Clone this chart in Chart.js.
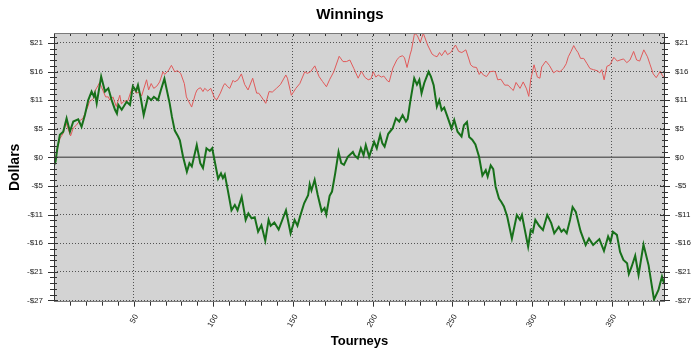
<!DOCTYPE html>
<html>
<head>
<meta charset="utf-8">
<script src="https://cdn.jsdelivr.net/npm/chart.js@4"></script>
<style>
  html, body { margin: 0; padding: 0; background: #fff; }
</style>
</head>
<body>
<canvas id="chart" width="700" height="357"></canvas>
<script>
// Tourney number / cumulative dollars
const greenTourneys = [0,1,2,3.7,5.8,7.9,10,12.1,15.2,17.3,
  19.4,21.5,23.6,25,25.7,26.8,29.6,32,34.1,36.2,
  38.3,39.5,40.4,42.5,45.6,47.7,49.5,51.5,52.7,54.5,
  56.3,59,61,62.7,65.3,67,69.3,72.6,74,75.8,
  77.9,79,81,83.4,85,86.5,89.6,91.8,93.5,95.7,
  97.8,99.3,103,104.8,106,107.2,109,111.4,113.5,115.2,
  117.8,120.3,122,124,126,128.1,130.2,132.6,134.7,136,
  138.3,141,145.6,148.5,151,152.8,154.5,157,159.5,160.5,
  161.6,163.6,165.5,168,169.8,170.9,173,174.5,176.5,178.6,
  180.3,182,184.4,187.6,188.6,190.7,191.7,192.6,194.3,195.7,
  197.8,200.9,202.6,204.7,206.1,207.5,209.8,212.5,214.6,216.7,
  218.8,220.9,222,223.6,226.1,227.8,229.3,230.7,232.4,235.1,
  236.6,238.3,240.3,241.8,243.3,244.9,246.6,249.5,251.2,253.3,
  255.8,257.3,259.2,260.6,262.5,264.5,266.8,268.9,271,272.2,
  274.1,275.7,277.2,279.3,280.7,282.4,284.5,287.4,290.5,292.5,
  293.7,297.6,299.2,300.5,302.1,304.5,306.9,309.6,312.1,314,
  316.8,318.5,320,321.8,323.9,325.5,327.5,330.5,333.7,335.8,
  338.4,342.3,345.2,347.8,349.3,350.8,353.3,355.3,357.4,359.7,
  360.8,362.5,364.8,366.9,370,373.2,376.6,379.4,381.6,383];
const greenDollars = [-1.5,-0.8,1.5,4.2,4.8,7.3,4.8,6.7,7.1,5.7,
  7.9,10.7,12.3,11.4,12,10.1,15.1,12.3,12.9,10.7,
  8.9,8.2,9.8,8.9,10.4,9.8,13.3,12.4,13.5,11,
  7.9,11.3,10.7,11.3,10.7,12.5,14.7,10.1,7.6,5,
  3.9,3.2,0.1,-2.7,-1.1,-1.7,2.3,-1.1,-2,1.7,
  1.2,1.7,-4,-3,-3.9,-3.2,-6,-9.9,-8.9,-9.9,
  -7.4,-11.7,-10.5,-11.4,-11.2,-13.9,-12.7,-15.6,-11.7,-12.8,
  -12.2,-13.5,-9.9,-14.2,-11.7,-12.8,-11,-8.6,-7.1,-5,
  -6.2,-4.2,-7,-10.1,-9.5,-10.7,-7.2,-6.4,-3,1,
  -1.1,-1.4,0.1,1,0.4,-0.2,0.8,1.7,0.4,2.3,
  0.1,2.9,1.7,4.2,2.6,2,4.4,5.4,7.3,6.7,
  7.9,6.7,7.2,10.4,14.8,13.6,14.5,12,13.9,16,
  15.1,13.5,9.5,10.7,8.8,9.3,7.9,5.4,7,4.8,
  3.9,6,6.6,3.8,3.3,2.4,0.1,-3.4,-2.4,-3.6,
  -1.5,-2.2,-5.5,-7.7,-8.3,-9.2,-11.1,-15.2,-10.8,-11.7,
  -10.8,-16.7,-13.6,-14,-11.7,-12.8,-13.6,-10.8,-12.3,-14.2,
  -13,-13.9,-13.5,-14.2,-11.7,-9.3,-10.2,-13.8,-16.4,-15.2,
  -16.4,-15.3,-17.5,-14.8,-15.8,-13.9,-14.5,-17.7,-19.2,-19.8,
  -21.8,-20.5,-18.4,-22,-16.3,-20.2,-26.6,-24.8,-22.3,-23.7];

const redTourneys = [0,1,2,3.7,5.8,7.5,10.4,12.1,14,16,
  18.2,19.4,21.3,22.2,24.8,25.5,27.8,28.6,30,32.4,
  34.1,35,37,39.1,41.3,42.3,44,46.4,48.9,50,
  51.5,53.5,55,58.1,59.4,61,62.6,64.5,66.3,68.4,
  69.5,72,73.7,75.8,77.5,79.5,81.8,83.1,84.1,86.4,
  88.9,89.8,91,92,93.5,94.6,96.5,98.4,100.9,102.3,
  104.4,106.5,107.3,109,110.3,112.4,113.4,115.5,117.6,119.7,
  121.8,124.7,127.2,128.5,130.2,132.9,135,137,139.6,142.1,
  145.5,146.5,149,151.8,154.3,157.4,159,161,163.7,166.4,
  168.5,171,173.1,175.6,179,181.4,183.5,185.7,188.2,190.9,
  193,195,197.2,199,200.4,202,203.5,205.5,207,209.3,
  210.4,212.7,215.3,217,218.8,220,221.6,223.6,224.4,226.3,
  228,229.9,231.8,234.5,237.3,238.8,240.4,242,243.3,245.5,
  247,249,252,254,256,258.5,260.6,261.5,263.1,265.2,
  266.9,268,269.5,271.5,273.6,275.7,277,278.5,280.5,282.9,
  285,287.2,288.3,290,292.5,294.5,296.6,298,299.2,301.3,
  303.4,305,306.1,308.7,310.9,313.6,315.5,317.5,319.7,321.5,
  322.8,324.5,326.2,327.5,328.9,330.5,332.5,334.6,336.4,338.5,
  341,342.5,343.8,345.3,347,349,351.4,353.5,355.3,357.5,
  359.5,361.5,363.8,365.7,367.6,370.2,372.5,374.2,376.1,378,
  379.3,380.5,382,383];
const redDollars = [-1.5,-0.5,1.5,3.5,4.5,6.5,4,5.5,6,6.8,
  7.3,8.2,9.5,10.4,11,12.3,13.5,14,13,11.3,
  11.3,10.7,11.3,9.5,11.6,10,10.5,10.6,12.9,13.2,
  12,12.2,11.5,14.5,12.6,13.8,12.9,13.3,14.1,16,
  15.5,16.3,17.2,16,16.2,15.7,13.8,11.3,10.7,9.4,
  12,12.6,12.9,13,12.3,12.9,12.4,12.9,11,10.8,
  12,13.5,13.8,13.2,12.9,14.4,14.1,14.5,15.6,13.6,
  12.6,14.8,12,12,11.3,10.1,12.3,12.2,12.9,13.6,
  15.4,14.8,11.6,12.9,13.8,16,15.7,16,17.1,15.1,
  14.2,13.2,14.6,16,18.9,17.9,17.9,18.2,16.6,14.8,
  16.1,15,14.5,14.7,16,15,15.4,15,15.2,14.3,
  14.1,16.7,18.3,18.8,19,18.6,16.8,19.3,20.1,23.2,
  22.8,21.5,23.2,21,19.3,19,18.8,19.6,19,20,
  19.2,19.6,21,19.8,19.6,20.1,18.2,17.3,16.9,16.8,
  15.5,16,15.4,15.1,16,16.1,16,14.5,14.6,13.5,
  13.5,12.8,12.5,14,12.9,14.1,12.8,11.4,14.5,17.3,
  15,14.8,16.9,18,17.2,15.8,16.2,16,16.6,17.5,
  18.8,19.8,20.9,20.2,19.6,18.5,18.5,17.5,16.6,16.4,
  16.2,15.8,16.4,14.5,17,17.3,18.7,18,18.2,18.4,
  17.7,18.2,19.8,18.2,18,20.1,18.8,17.3,15.6,14.9,
  15.5,16.1,15.2,15];

// axis ticks
const xTickValues = [50, 100, 150, 200, 250, 300, 350];
const yStep = 5.35;
const yTickLabels = ['-$27', '-$21', '-$16', '-$11', '-$5', '$0', '$5', '$11', '$16', '$21'];
const yMin = -27, yMax = 23.25, xMax = 383.5;

const tickFont = { family: "'Liberation Sans Narrow', 'Liberation Sans', Arial, sans-serif", size: 8 };
const boldFont = (size) => ({ family: "'Liberation Sans', Arial, sans-serif", size: size, weight: 'bold' });

const toPoints = (xs, ys) => xs.map((x, i) => ({ x: x, y: ys[i] }));

const yTicksFromLabels = (scale) => {
    scale.ticks = yTickLabels.map((_, i) => ({ value: (i - 5) * yStep }));
};

// grey plot background, frame and the small tick marks
const plotFrame = {
    id: 'plotFrame',
    beforeDraw(chart) {
        const { ctx, chartArea: a } = chart;
        ctx.save();
        ctx.fillStyle = '#d3d3d3';
        ctx.fillRect(a.left, a.top, a.right - a.left, a.bottom - a.top);
        ctx.restore();
    },
    afterDraw(chart) {
        const { ctx, chartArea: a, scales } = chart;
        const xs = scales.x, ys = scales.y;
        const minor = yStep / 5;
        ctx.save();
        ctx.lineWidth = 1;
        ctx.strokeStyle = '#333';
        ctx.beginPath();
        for (let k = Math.ceil(ys.min / minor); k * minor <= ys.max; k++) {
            const py = Math.round(ys.getPixelForValue(k * minor)) + 0.5;
            const major = k % 5 === 0;
            ctx.moveTo(a.left - (major ? 6 : 4), py);
            ctx.lineTo(a.left + (major ? 4 : 3), py);
            ctx.moveTo(a.right - (major ? 5 : 3), py);
            ctx.lineTo(a.right + (major ? 5 : 3), py);
        }
        for (let t = 10; t < xs.max; t += 10) {
            const px = Math.round(xs.getPixelForValue(t)) + 0.5;
            ctx.moveTo(px, a.bottom);
            ctx.lineTo(px, a.bottom + (t % 50 === 0 ? 5 : 4));
            ctx.moveTo(px, a.top);
            ctx.lineTo(px, a.top + 3);
        }
        ctx.stroke();

        // frame
        const l = Math.round(a.left) + 0.5, r = Math.round(a.right) - 0.5;
        const t = Math.round(a.top) + 0.5, b = Math.round(a.bottom) - 0.5;
        ctx.strokeStyle = '#7a7a7a';
        ctx.beginPath();
        ctx.moveTo(l, t); ctx.lineTo(r, t);
        ctx.moveTo(l, b); ctx.lineTo(r, b);
        ctx.stroke();
        ctx.strokeStyle = '#333';
        ctx.beginPath();
        ctx.moveTo(l, t); ctx.lineTo(l, b);
        ctx.moveTo(r, t); ctx.lineTo(r, b);
        ctx.stroke();
        ctx.restore();
    }
};

new Chart(document.getElementById('chart'), {
    type: 'line',
    data: {
        datasets: [
            {
                label: 'Green',
                data: toPoints(greenTourneys, greenDollars),
                borderColor: '#17701a',
                borderWidth: 2,
                pointRadius: 0,
                tension: 0
            },
            {
                label: 'Red',
                data: toPoints(redTourneys, redDollars),
                borderColor: '#e05a5a',
                borderWidth: 1,
                pointRadius: 0,
                tension: 0
            },
            {
                label: 'Zero',
                data: [{ x: 0, y: 0 }, { x: xMax, y: 0 }],
                borderColor: '#666',
                borderWidth: 1.5,
                pointRadius: 0
            }
        ]
    },
    options: {
        responsive: false,
        animation: false,
        events: [],
        layout: { padding: 0 },
        plugins: {
            legend: { display: false },
            tooltip: { enabled: false },
            title: {
                display: true,
                text: 'Winnings',
                color: '#000',
                font: boldFont(15),
                padding: { top: 6, bottom: 9 }
            }
        },
        scales: {
            x: {
                type: 'linear',
                min: 0,
                max: xMax,
                afterBuildTicks: (s) => { s.ticks = xTickValues.map(v => ({ value: v })); },
                afterFit: (s) => { s.height = 55.3; },
                ticks: {
                    font: tickFont,
                    color: '#222',
                    minRotation: 60,
                    maxRotation: 60,
                    padding: 11,
                    labelOffset: 3,
                    callback: (v) => String(v)
                },
                grid: { color: 'rgba(60,60,60,0.85)', drawTicks: false },
                border: { display: false, dash: [1, 2] },
                title: {
                    display: true,
                    text: 'Tourneys',
                    color: '#000',
                    font: boldFont(13),
                    padding: { top: 0, bottom: 8 }
                }
            },
            y: {
                position: 'left',
                min: yMin,
                max: yMax,
                afterBuildTicks: yTicksFromLabels,
                afterFit: (s) => { s.width = 54; },
                ticks: {
                    font: tickFont,
                    color: '#222',
                    padding: 11,
                    callback: (v, i) => yTickLabels[i]
                },
                grid: { color: 'rgba(60,60,60,0.85)', drawTicks: false },
                border: { display: false, dash: [1, 2] },
                title: {
                    display: true,
                    text: 'Dollars',
                    color: '#000',
                    font: boldFont(14),
                    padding: { top: 7, bottom: 0 }
                }
            },
            y2: {
                position: 'right',
                min: yMin,
                max: yMax,
                afterBuildTicks: yTicksFromLabels,
                afterFit: (s) => { s.width = 35; },
                ticks: {
                    font: tickFont,
                    color: '#222',
                    padding: 10,
                    callback: (v, i) => yTickLabels[i]
                },
                grid: { drawOnChartArea: false, drawTicks: false },
                border: { display: false }
            }
        }
    },
    plugins: [plotFrame]
});
</script>
</body>
</html>
